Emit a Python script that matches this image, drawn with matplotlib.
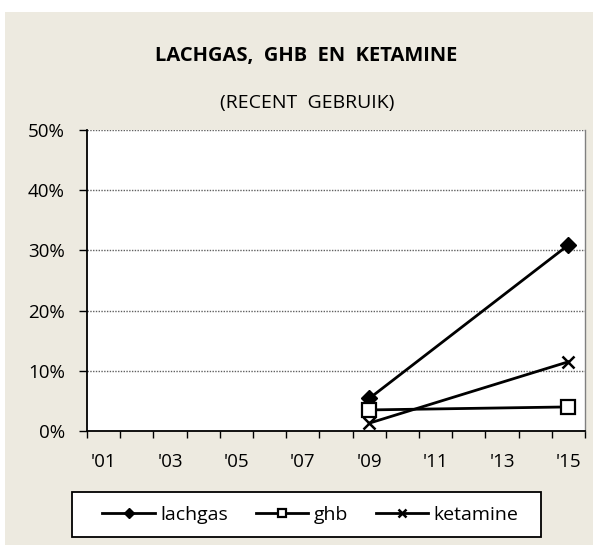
import matplotlib
matplotlib.use("Agg")
import matplotlib.pyplot as plt
from matplotlib.patches import Rectangle
from matplotlib.ticker import FixedLocator, FuncFormatter
import numpy as np

plt.rcParams['font.family'] = ['Open Sans', 'Noto Sans', 'DejaVu Sans']

# Survey years on the category axis
years = ["'01", "'02", "'03", "'04", "'05", "'06", "'07", "'08",
         "'09", "'10", "'11", "'12", "'13", "'14", "'15"]
measured_years = ["'09", "'15"]

# Recent use, percent
lachgas = [5.4, 30.9]
ghb = [3.5, 4.0]
ketamine = [1.3, 11.5]

y_ticks = [0, 10, 20, 30, 40, 50]

W, H = 593, 545
fig = plt.figure(figsize=(W / 100, H / 100), dpi=100)
fig.patch.set_facecolor('white')

# Beige chart panel
fig.add_artist(Rectangle((5 / W, 0), 1 - 5 / W, (H - 12) / H,
                         transform=fig.transFigure, facecolor='#edeae0',
                         edgecolor='none', zorder=-10))

ax = fig.add_axes([87 / W, 1 - 431 / H, (585 - 87) / W, (431 - 130) / H])
ax.set_facecolor('white')

xpos = [years.index(y) for y in measured_years]

ax.plot(xpos, lachgas, color='black', lw=2, marker='D', markersize=8,
        markerfacecolor='black', markeredgecolor='black', label='lachgas',
        zorder=5)
ax.plot(xpos, ghb, color='black', lw=2, marker='s', markersize=10,
        markerfacecolor='white', markeredgecolor='black', markeredgewidth=1.6,
        label='ghb', zorder=5)
ax.plot(xpos, ketamine, color='black', lw=2, marker='x', markersize=8.5,
        markeredgewidth=1.8, label='ketamine', zorder=5)

ax.set_xlim(-0.5, len(years) - 0.5)
ax.set_ylim(0, 50)

# Gridlines
for v in y_ticks[1:]:
    ax.axhline(v, color='#606060', lw=1.0, ls=(0, (1, 1)), zorder=1)

ax.set_yticks(y_ticks)
ax.yaxis.set_major_formatter(FuncFormatter(lambda v, p: f'{int(v)}%'))
ax.tick_params(axis='y', direction='out', length=6, width=1, colors='black',
               labelsize=13.5, pad=10)

# Category boundaries carry the ticks; labels sit in the middle of every other year
ax.xaxis.set_major_locator(FixedLocator(np.arange(-0.5, len(years), 1.0)))
ax.xaxis.set_major_formatter(FuncFormatter(lambda v, p: ''))
label_pos = list(range(0, len(years), 2))
ax.xaxis.set_minor_locator(FixedLocator(label_pos))
ax.xaxis.set_minor_formatter(FuncFormatter(lambda v, p: years[int(round(v))]))
ax.tick_params(axis='x', which='major', direction='out', length=5, width=1,
               colors='black')
ax.tick_params(axis='x', which='minor', length=0, labelsize=13.5, pad=16,
               labelcolor='black')

for s in ['left', 'bottom']:
    ax.spines[s].set_color('black')
    ax.spines[s].set_linewidth(1.3)
ax.spines['top'].set_visible(False)
ax.spines['right'].set_color('#808080')
ax.spines['right'].set_linewidth(1.0)

fig.text(306 / W, 1 - 56 / H, 'LACHGAS,  GHB  EN  KETAMINE', ha='center',
         va='center', fontsize=14.5, fontweight='bold')
fig.text(307 / W, 1 - 103 / H, '(RECENT  GEBRUIK)', ha='center', va='center',
         fontsize=14)

# Legend box
fig.add_artist(Rectangle((72 / W, 1 - 537 / H), (541 - 72) / W, (537 - 492) / H,
                         transform=fig.transFigure, facecolor='white',
                         edgecolor='black', linewidth=1.3, zorder=3))
leg = fig.legend(loc='center', bbox_to_anchor=(310.5 / W, 1 - 514.5 / H),
                 ncol=3, frameon=False, fontsize=14,
                 markerscale=0.6, handlelength=2.7, handletextpad=0.3,
                 columnspacing=1.4, borderpad=0.3)
leg.set_zorder(4)

fig.savefig('out.png', dpi=100, facecolor=fig.get_facecolor())
